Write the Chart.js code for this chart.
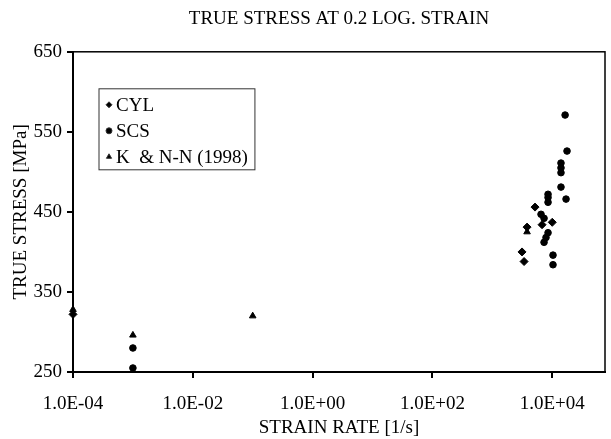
<!DOCTYPE html>
<html>
<head>
<meta charset="utf-8">
<script src="https://cdn.jsdelivr.net/npm/chart.js"></script>
<style>
  body { margin: 0; background: #fff; }
  canvas { display: block; }
</style>
</head>
<body>
<canvas id="stressChart" width="611" height="439"></canvas>
<script>
// strain rate [1/s] and true stress [MPa]
const cylRate   = [1e-4, 3130, 3390, 3800, 5160, 6760, 10000];
const cylStress = [322, 400, 388, 431, 456, 434, 437];

const scsRate   = [1e-3, 1e-3, 6500, 7300, 7300, 7870, 8510, 8510, 8510, 8510, 10300, 10300,
                   14000, 14000, 14000, 14000, 16400, 17000, 17650];
const scsStress = [280, 255, 447, 442, 412, 418, 472, 468, 462, 424, 396, 384,
                   511, 505, 499, 481, 571, 466, 526];

const knnRate   = [1e-4, 1e-3, 0.1, 3800];
const knnStress = [328, 296, 320, 425];

const xTicks = [1e-4, 1e-2, 1, 1e2, 1e4];
const yTicks = [250, 350, 450, 550, 650];

const serif = '"Liberation Serif", "Times New Roman", serif';

function toPoints(xs, ys) {
    return xs.map((x, i) => ({ x: x, y: ys[i] }));
}

// 1.0E-04 style labels
function sciLabel(v) {
    const e = Math.round(Math.log10(v));
    const m = v / Math.pow(10, e);
    return m.toFixed(1) + 'E' + (e < 0 ? '-' : '+') + String(Math.abs(e)).padStart(2, '0');
}

// thin frame round the plot area
const framePlugin = {
    id: 'frame',
    beforeDatasetsDraw(chart) {
        const a = chart.chartArea;
        const c = chart.ctx;
        c.save();
        c.strokeStyle = '#000';
        c.lineWidth = 1.5;
        c.strokeRect(a.left, a.top, a.right - a.left, a.bottom - a.top);
        c.restore();
    }
};

// boxed legend inside the plot, top left
const boxLegend = {
    id: 'boxLegend',
    afterDraw(chart) {
        const c = chart.ctx;
        const a = chart.chartArea;
        const x0 = a.left + 26, y0 = a.top + 37;
        const rowH = 26;
        c.save();
        c.font = '19px ' + serif;
        let w = 0;
        chart.data.datasets.forEach(ds => { w = Math.max(w, c.measureText(ds.legendText).width); });
        const boxW = w + 24, boxH = rowH * 3 + 3;
        c.strokeStyle = '#333';
        c.lineWidth = 1;
        c.strokeRect(x0, y0, boxW, boxH);
        c.fillStyle = '#000';
        c.textBaseline = 'middle';
        chart.data.datasets.forEach((ds, i) => {
            const cy = y0 + 16 + i * rowH;
            Chart.helpers.drawPoint(c, {
                pointStyle: ds.pointStyle, radius: 3, borderWidth: 1
            }, x0 + 10, cy);
            c.fillStyle = '#000';
            c.fillText(ds.legendText, x0 + 17, cy + 1);
        });
        c.restore();
    }
};

const ctx = document.getElementById('stressChart').getContext('2d');
const stressChart = new Chart(ctx, {
    type: 'scatter',
    data: {
        datasets: [
            {
                label: 'CYL', legendText: 'CYL',
                data: toPoints(cylRate, cylStress),
                pointStyle: 'rectRot', pointRadius: 4,
                backgroundColor: '#000', borderColor: '#000', clip: false
            },
            {
                label: 'SCS', legendText: 'SCS',
                data: toPoints(scsRate, scsStress),
                pointStyle: 'circle', pointRadius: 3.3,
                backgroundColor: '#000', borderColor: '#000', clip: false
            },
            {
                label: 'K & N-N (1998)', legendText: 'K  & N-N (1998)',
                data: toPoints(knnRate, knnStress),
                pointStyle: 'triangle', pointRadius: 3.8,
                backgroundColor: '#000', borderColor: '#000', clip: false
            }
        ]
    },
    options: {
        responsive: false,
        animation: false,
        layout: { padding: { left: 0, right: 6, top: 0, bottom: 0 } },
        plugins: {
            legend: { display: false },
            tooltip: { enabled: false },
            title: {
                display: true,
                fullSize: false,
                text: 'TRUE STRESS AT 0.2 LOG. STRAIN',
                color: '#000',
                font: { family: serif, size: 19, weight: 'normal' },
                padding: { top: 8, bottom: 21 }
            }
        },
        scales: {
            x: {
                type: 'logarithmic',
                min: 1e-4,
                max: 76000,
                afterBuildTicks: scale => { scale.ticks = xTicks.map(v => ({ value: v })); },
                afterFit: scale => { scale.height = 67; },
                ticks: {
                    autoSkip: false, maxRotation: 0, padding: 15,
                    color: '#000',
                    font: { family: serif, size: 19 },
                    callback: v => sciLabel(v)
                },
                grid: { drawOnChartArea: false, tickLength: 6, color: '#000', lineWidth: 2 },
                border: { color: '#000', width: 2 },
                title: {
                    display: true, text: 'STRAIN RATE [1/s]', color: '#000',
                    font: { family: serif, size: 19 },
                    padding: { top: 0, bottom: 0 }
                }
            },
            y: {
                min: 250,
                max: 650,
                afterBuildTicks: scale => { scale.ticks = yTicks.map(v => ({ value: v })); },
                afterFit: scale => { scale.width = 73; },
                ticks: {
                    padding: 5, color: '#000',
                    font: { family: serif, size: 19 }
                },
                grid: { drawOnChartArea: false, tickLength: 6, color: '#000', lineWidth: 2 },
                border: { color: '#000', width: 2 },
                title: {
                    display: true, text: 'TRUE STRESS [MPa]', color: '#000',
                    font: { family: serif, size: 19 },
                    padding: { top: 10, bottom: 0 }
                }
            }
        }
    },
    plugins: [framePlugin, boxLegend]
});
</script>
</body>
</html>
